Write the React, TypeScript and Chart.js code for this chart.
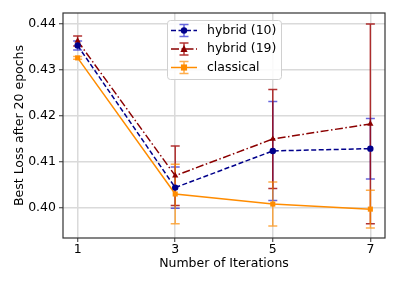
import React, { useEffect, useRef } from "react";
import { Chart, registerables } from "chart.js";

Chart.register(...registerables);

const iterations = [1, 3, 5, 7];
const xTicks = [1, 3, 5, 7];
const yTicks = [0.4, 0.41, 0.42, 0.43, 0.44];

const hybrid10 = [0.4353, 0.4043, 0.4123, 0.4128];
const hybrid10Err = [0.001, 0.0045, 0.0108, 0.0066];
const hybrid19 = [0.4363, 0.4069, 0.4149, 0.4182];
const hybrid19Err = [0.0011, 0.0065, 0.0108, 0.0218];
const classical = [0.4326, 0.4029, 0.4007, 0.3996];
const classicalErr = [0.0003, 0.0065, 0.0048, 0.0041];

const seriesLabels = ["hybrid (10)", "hybrid (19)", "classical"];
const seriesColors = ["#00008b", "#8b0000", "#ff8c00"];
const errColors = ["rgba(0,0,200,0.6)", "rgba(160,0,0,0.8)", "rgba(255,140,0,0.7)"];
const seriesDash = [[5, 2.5], [8, 2.5, 1.5, 2.5], []];
const seriesPoint = ["circle", "triangle", "rect"];
const seriesRadius = [3.2, 3.6, 3.6];

const X_MIN = 0.7;
const X_MAX = 7.3;
const Y_MIN = 0.3933;
const Y_MAX = 0.4424;

const FONT = "'DejaVu Sans', sans-serif";
const FS = 12.5;

function drawMarker(ctx: CanvasRenderingContext2D, style: string, x: number, y: number, r: number, color: string) {
  ctx.save();
  ctx.fillStyle = color;
  ctx.setLineDash([]);
  ctx.beginPath();
  if (style === "circle") {
    ctx.arc(x, y, r, 0, Math.PI * 2);
  } else if (style === "triangle") {
    ctx.moveTo(x, y - r * 1.1);
    ctx.lineTo(x + r, y + r * 0.8);
    ctx.lineTo(x - r, y + r * 0.8);
    ctx.closePath();
  } else {
    ctx.rect(x - r * 0.85, y - r * 0.85, r * 1.7, r * 1.7);
  }
  ctx.fill();
  ctx.restore();
}

const errorBarPlugin = {
  id: "errorBars",
  beforeDatasetsDraw(chart: any) {
    const ctx = chart.ctx as CanvasRenderingContext2D;
    const xs = chart.scales.x;
    const ys = chart.scales.y;
    const errs = [hybrid10Err, hybrid19Err, classicalErr];
    const vals = [hybrid10, hybrid19, classical];
    ctx.save();
    ctx.lineWidth = 1.5;
    ctx.setLineDash([]);
    for (let s = 0; s < 3; s++) {
      ctx.strokeStyle = errColors[s];
      for (let i = 0; i < iterations.length; i++) {
        const px = xs.getPixelForValue(iterations[i]);
        const top = ys.getPixelForValue(vals[s][i] + errs[s][i]);
        const bot = ys.getPixelForValue(vals[s][i] - errs[s][i]);
        ctx.beginPath();
        ctx.moveTo(px, top);
        ctx.lineTo(px, bot);
        ctx.moveTo(px - 4.5, top);
        ctx.lineTo(px + 4.5, top);
        ctx.moveTo(px - 4.5, bot);
        ctx.lineTo(px + 4.5, bot);
        ctx.stroke();
      }
    }
    ctx.restore();
  },
  afterDraw(chart: any) {
    const ctx = chart.ctx as CanvasRenderingContext2D;
    const a = chart.chartArea;
    ctx.save();
    ctx.strokeStyle = "#333";
    ctx.lineWidth = 1.2;
    ctx.setLineDash([]);
    ctx.strokeRect(a.left, a.top, a.right - a.left, a.bottom - a.top);
    ctx.restore();

    const lx = a.left + 104;
    const ly = a.top + 7;
    const lw = 114;
    const lh = 59;
    ctx.save();
    ctx.fillStyle = "rgba(255,255,255,0.85)";
    ctx.strokeStyle = "#d0d0d0";
    ctx.lineWidth = 1;
    ctx.beginPath();
    (ctx as any).roundRect(lx + 0.5, ly + 0.5, lw, lh, 3);
    ctx.fill();
    ctx.stroke();
    for (let s = 0; s < 3; s++) {
      const cy = ly + 10.5 + s * 18.5;
      const x0 = lx + 4;
      const x1 = lx + 30;
      const cx = (x0 + x1) / 2;
      ctx.strokeStyle = seriesColors[s];
      ctx.lineWidth = 1.5;
      ctx.setLineDash(seriesDash[s]);
      ctx.beginPath();
      ctx.moveTo(x0, cy);
      ctx.lineTo(x1, cy);
      ctx.stroke();
      ctx.setLineDash([]);
      ctx.strokeStyle = errColors[s];
      ctx.beginPath();
      ctx.moveTo(cx, cy - 6);
      ctx.lineTo(cx, cy + 6);
      ctx.moveTo(cx - 4.5, cy - 6);
      ctx.lineTo(cx + 4.5, cy - 6);
      ctx.moveTo(cx - 4.5, cy + 6);
      ctx.lineTo(cx + 4.5, cy + 6);
      ctx.stroke();
      drawMarker(ctx, seriesPoint[s], cx, cy, seriesRadius[s], seriesColors[s]);
      ctx.fillStyle = "#000";
      ctx.font = `${FS}px ${FONT}`;
      ctx.textBaseline = "middle";
      ctx.textAlign = "left";
      ctx.fillText(seriesLabels[s], lx + 40, cy);
    }
    ctx.restore();
  },
};

export default function App() {
  const canvasRef = useRef<HTMLCanvasElement | null>(null);

  useEffect(() => {
    if (!canvasRef.current) return;
    const allVals = [hybrid10, hybrid19, classical];
    const datasets = allVals.map((vals, s) => ({
      label: seriesLabels[s],
      data: iterations.map((x, i) => ({ x, y: vals[i] })),
      borderColor: seriesColors[s],
      backgroundColor: seriesColors[s],
      borderWidth: 1.5,
      borderDash: seriesDash[s],
      pointStyle: seriesPoint[s] as any,
      pointRadius: seriesRadius[s],
      pointBorderWidth: 0,
      pointBackgroundColor: seriesColors[s],
      tension: 0,
      fill: false,
    }));
    const chart = new Chart(canvasRef.current, {
      type: "line",
      data: { datasets },
      plugins: [errorBarPlugin],
      options: {
        animation: false,
        responsive: false,
        devicePixelRatio: 1,
        layout: { padding: { top: 13, right: 14, left: 0, bottom: 0 } },
        plugins: { legend: { display: false }, tooltip: { enabled: false } },
        scales: {
          x: {
            type: "linear",
            min: X_MIN,
            max: X_MAX,
            afterBuildTicks: (scale: any) => {
              scale.ticks = xTicks.map((v) => ({ value: v }));
            },
            afterFit: (scale: any) => {
              scale.height = 47;
            },
            ticks: {
              color: "#000",
              font: { family: FONT, size: FS },
              padding: 0,
              maxRotation: 0,
              callback: (v: any) => String(v),
            },
            grid: { color: "#dadada", lineWidth: 1.5, tickLength: 4, tickColor: "#333", tickWidth: 1 },
            border: { display: false },
            title: {
              display: true,
              text: "Number of Iterations",
              color: "#000",
              font: { family: FONT, size: FS },
              padding: { top: 0, bottom: 13.5 },
            },
          },
          y: {
            type: "linear",
            min: Y_MIN,
            max: Y_MAX,
            afterBuildTicks: (scale: any) => {
              scale.ticks = yTicks.map((v) => ({ value: v }));
            },
            afterFit: (scale: any) => {
              scale.width = 63;
            },
            ticks: {
              color: "#000",
              font: { family: FONT, size: FS },
              padding: 3,
              callback: (v: any) => Number(v).toFixed(2),
            },
            grid: { color: "#dadada", lineWidth: 1.5, tickLength: 4, tickColor: "#333", tickWidth: 1 },
            border: { display: false },
            title: {
              display: true,
              text: "Best Loss after 20 epochs",
              color: "#000",
              font: { family: FONT, size: FS },
              padding: { top: 12.5, bottom: 0 },
            },
          },
        },
      },
    });
    return () => chart.destroy();
  }, []);

  return (
    <div style={{ position: "absolute", left: 0, top: 0, width: 399, height: 285, background: "#fff" }}>
      <canvas ref={canvasRef} width={399} height={285} style={{ width: 399, height: 285, display: "block" }} />
    </div>
  );
}
